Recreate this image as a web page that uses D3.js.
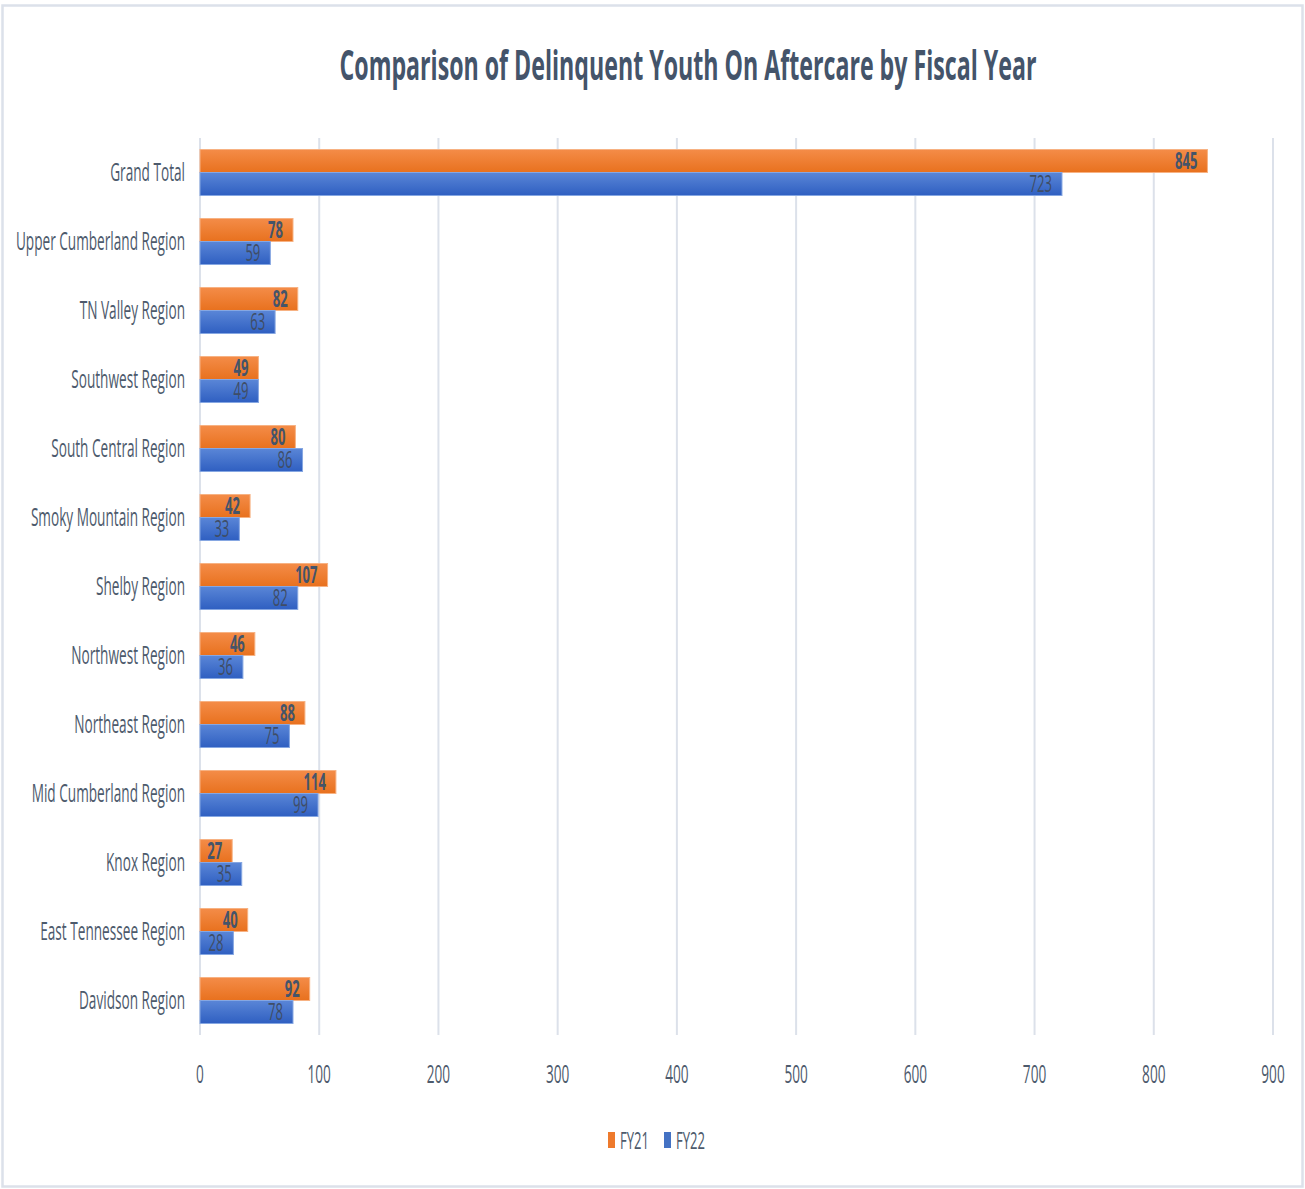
<!DOCTYPE html>
<html>
<head>
<meta charset="utf-8">
<script src="https://cdn.jsdelivr.net/npm/d3@7"></script>
<style>
  html, body { margin: 0; padding: 0; background: #ffffff; }
  svg { display: block; }
  text { font-family: "Open Sans", "Noto Sans", sans-serif; }
</style>
</head>
<body>
<svg id="chart" width="1305" height="1189"></svg>
<script>
// Delinquent youth on aftercare, by region and fiscal year
const regions = [
  "Grand Total",
  "Upper Cumberland Region",
  "TN Valley Region",
  "Southwest Region",
  "South Central Region",
  "Smoky Mountain Region",
  "Shelby Region",
  "Northwest Region",
  "Northeast Region",
  "Mid Cumberland Region",
  "Knox Region",
  "East Tennessee Region",
  "Davidson Region"
];
const fy21 = [845, 78, 82, 49, 80, 42, 107, 46, 88, 114, 27, 40, 92];
const fy22 = [723, 59, 63, 49, 86, 33, 82, 36, 75, 99, 35, 28, 78];
const seriesNames = ["FY21", "FY22"];
const xTicks = [0, 100, 200, 300, 400, 500, 600, 700, 800, 900];
const chartTitle = "Comparison of Delinquent Youth On Aftercare by Fiscal Year";

const W = 1305, H = 1189;
const plot = { left: 200, right: 1273, top: 138, bottom: 1035 };
const textColor = "#44546A";
const labelColor = "#4D5A6C";
const SX = 0.545; // narrow lettering

const svg = d3.select("#chart");
const defs = svg.append("defs");

function vGradient(id, top, bottom) {
  const g = defs.append("linearGradient").attr("id", id)
    .attr("x1", 0).attr("y1", 0).attr("x2", 0).attr("y2", 1);
  g.append("stop").attr("offset", "0%").attr("stop-color", top);
  g.append("stop").attr("offset", "100%").attr("stop-color", bottom);
}
vGradient("gOrange", "#F48C48", "#E8711E");
vGradient("gBlue", "#5A86D7", "#2F5FC1");
const fills = ["url(#gOrange)", "url(#gBlue)"];
const strokes = ["#F7B283", "#86A7E2"];
const swatch = ["#EE7A2C", "#4472C4"];

// outer frame
svg.append("rect")
  .attr("x", 2.5).attr("y", 5.5).attr("width", W - 5).attr("height", H - 8)
  .attr("fill", "none").attr("stroke", "#DCE1EA").attr("stroke-width", 2.5);

// squeezed text helper
function sText(parent, x, y, str, opts) {
  const sx = opts.sx || SX;
  return parent.append("text")
    .attr("transform", `translate(${x},${y}) scale(${sx},1)`)
    .attr("text-anchor", opts.anchor || "middle")
    .attr("font-size", opts.size)
    .attr("font-weight", opts.weight || "normal")
    .attr("fill", opts.color || textColor)
    .text(str);
}

const x = d3.scaleLinear().domain([0, 900]).range([plot.left, plot.right]);
const y = d3.scaleBand().domain(regions).range([plot.top, plot.bottom])
  .paddingInner(1 / 3).paddingOuter(1 / 6);
const ySub = d3.scaleBand().domain(seriesNames).range([0, y.bandwidth()]);

// gridlines
svg.append("g").selectAll("line").data(xTicks).join("line")
  .attr("x1", d => x(d)).attr("x2", d => x(d))
  .attr("y1", plot.top).attr("y2", plot.bottom)
  .attr("stroke", "#DCE1EA").attr("stroke-width", 2);

// title
sText(svg, 688, 80, chartTitle, { size: 42, weight: "bold", sx: 0.552 });

// category labels
const catG = svg.append("g");
regions.forEach(r => {
  sText(catG, plot.left - 15, y(r) + y.bandwidth() / 2 + 8, r,
    { size: 25, anchor: "end", color: labelColor });
});

// tick labels
const tickG = svg.append("g");
xTicks.forEach(t => {
  sText(tickG, x(t), 1083, String(t), { size: 25, color: labelColor });
});

// bars
const rows = regions.map((r, i) => ({ region: r, values: [fy21[i], fy22[i]] }));
const grp = svg.append("g").selectAll("g").data(rows).join("g")
  .attr("transform", d => `translate(0,${y(d.region)})`);

grp.selectAll("rect").data(d => d.values.map((v, k) => ({ v, k })))
  .join("rect")
  .attr("x", x(0))
  .attr("y", d => ySub(seriesNames[d.k]))
  .attr("width", d => x(d.v) - x(0))
  .attr("height", ySub.bandwidth())
  .attr("fill", d => fills[d.k])
  .attr("stroke", d => strokes[d.k])
  .attr("stroke-width", 1);

// value labels, inside end
grp.each(function (d) {
  const g = d3.select(this);
  d.values.forEach((v, k) => {
    sText(g, x(v) - 10, ySub(seriesNames[k]) + ySub.bandwidth() / 2 + 8, String(v), {
      size: 24, anchor: "end", weight: k === 0 ? "bold" : "normal",
      color: k === 0 ? "#44546A" : "#3F4D66"
    });
  });
});

// legend
const leg = svg.append("g");
const legItems = [{ name: "FY21", x: 608 }, { name: "FY22", x: 664 }];
legItems.forEach((it, k) => {
  leg.append("rect").attr("x", it.x).attr("y", 1132).attr("width", 7).attr("height", 16)
    .attr("fill", swatch[k]);
  sText(leg, it.x + 12, 1149, it.name, { size: 24, anchor: "start", color: labelColor });
});
</script>
</body>
</html>
